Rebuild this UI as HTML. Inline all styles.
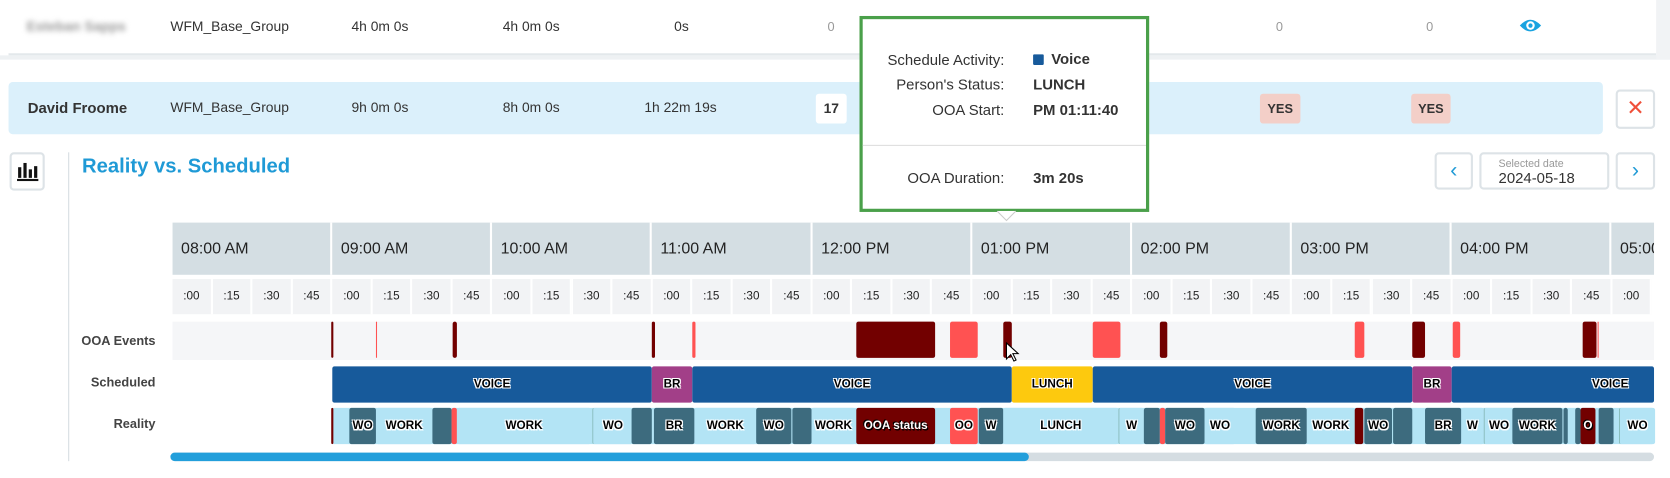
<!DOCTYPE html>
<html><head><meta charset="utf-8"><style>
html,body{margin:0;padding:0;width:1670px;height:478px;overflow:hidden;background:#fff}
#w{position:absolute;left:0;top:0;width:1568px;height:449px;transform:scale(1.06505);transform-origin:0 0;font-family:"Liberation Sans Narrow","Liberation Sans",sans-serif;color:#333}
.a{position:absolute}
.t{position:absolute;font-size:13px;line-height:16px;white-space:nowrap}
.hr{position:absolute;top:209px;height:49px;background:#d4dee3;border-right:2px solid #fff;box-sizing:border-box;font-size:15px;line-height:49px;padding-left:8px;color:#222;overflow:hidden;white-space:nowrap}
.q{position:absolute;top:262px;height:33px;background:#f2f3f5;border-right:2px solid #fff;box-sizing:border-box;font-size:11px;line-height:33px;text-align:center;color:#222}
.ev{position:absolute;top:302px;height:34px;border-radius:2px}
.d{background:#720000}.l{background:#ff5252}
.s{position:absolute;top:344px;height:34px;color:#000;font-size:11px;font-weight:bold;line-height:34px;text-align:center;text-shadow:-1px -1px 0 #fff,1px -1px 0 #fff,-1px 1px 0 #fff,1px 1px 0 #fff;overflow:hidden;border-radius:2px}
.r{position:absolute;top:383px;height:34px;color:#000;font-size:11px;font-weight:bold;line-height:34px;text-align:center;text-shadow:-1px -1px 0 #fff,1px -1px 0 #fff,-1px 1px 0 #fff,1px 1px 0 #fff;overflow:hidden;border-radius:2px}
.lb{position:absolute;right:1422px;font-size:12px;font-weight:bold;color:#444}
.dk{background:#3d6b7e}.lt{background:#b3e4f5}.rd{background:#720000}.rr{background:#ff5252}
.btn{position:absolute;border:2px solid #dde3e7;border-radius:4px;background:#fff;box-sizing:border-box}
</style></head><body><div id="w">
<!-- top row -->
<div class="a" style="left:8px;top:0;width:1547px;height:50px;background:#fff;border-bottom:2px solid #e3e8eb"></div>
<div class="a" style="left:0;top:52px;width:1568px;height:4px;background:#eef1f3"></div>
<div class="a" style="left:1555px;top:0;width:13px;height:56px;background:#f1f3f5"></div>
<div class="t" style="left:25px;top:17px;color:#999;filter:blur(2.5px);font-weight:bold">Esteban Sapps</div>
<div class="t" style="left:160px;top:17px">WFM_Base_Group</div>
<div class="t" style="left:330px;top:17px">4h 0m 0s</div>
<div class="t" style="left:472px;top:17px">4h 0m 0s</div>
<div class="t" style="left:633px;top:17px">0s</div>
<div class="t" style="left:777px;top:17px;color:#999;font-size:12px">0</div>
<div class="t" style="left:1198px;top:17px;color:#999;font-size:12px">0</div>
<div class="t" style="left:1339px;top:17px;color:#999;font-size:12px">0</div>
<svg class="a" style="left:1426px;top:16px" width="22" height="16"><path d="M1 8 Q11 -3 21 8 Q11 19 1 8Z" fill="#1aa3e0"/><circle cx="11" cy="8" r="4" fill="#fff"/><circle cx="11" cy="8" r="2" fill="#1aa3e0"/></svg>
<!-- David row -->
<div class="a" style="left:8px;top:77px;width:1497px;height:49px;background:#dbf0fb;border-radius:4px"></div>
<div class="t" style="left:26px;top:93px;font-weight:bold;font-size:14px">David Froome</div>
<div class="t" style="left:160px;top:93px">WFM_Base_Group</div>
<div class="t" style="left:330px;top:93px">9h 0m 0s</div>
<div class="t" style="left:472px;top:93px">8h 0m 0s</div>
<div class="t" style="left:605px;top:93px">1h 22m 19s</div>
<div class="a" style="left:766px;top:88px;width:29px;height:28px;background:#fff;border-radius:3px;font-weight:bold;font-size:13px;line-height:28px;text-align:center">17</div>
<div class="a" style="left:1183px;top:88px;width:38px;height:28px;background:#f3cfc8;border-radius:3px;font-weight:bold;font-size:12px;line-height:28px;text-align:center">YES</div>
<div class="a" style="left:1325px;top:88px;width:37px;height:28px;background:#f3cfc8;border-radius:3px;font-weight:bold;font-size:12px;line-height:28px;text-align:center">YES</div>
<div class="btn" style="left:1517px;top:84px;width:37px;height:37px;color:#f0503a;font-size:20px;line-height:33px;text-align:center">✕</div>
<!-- chart section -->
<div class="a" style="left:64px;top:143px;width:1px;height:290px;background:#d6dde2"></div>
<div class="btn" style="left:9px;top:143px;width:33px;height:36px"><svg width="29" height="32"><g fill="#111"><rect x="6" y="12" width="3" height="10"/><rect x="11" y="8" width="3" height="14"/><rect x="16" y="14" width="3" height="8"/><rect x="21" y="11" width="3" height="11"/><rect x="5" y="23" width="20" height="2"/></g></svg></div>
<div class="t" style="left:77px;top:146px;font-size:19px;line-height:22px;font-weight:bold;color:#1f9ad6">Reality vs. Scheduled</div>
<div class="btn" style="left:1347px;top:143px;width:36px;height:35px;color:#1f9ad6;font-size:20px;line-height:30px;text-align:center">‹</div>
<div class="btn" style="left:1389px;top:143px;width:122px;height:35px"><div class="t" style="left:16px;top:2px;font-size:10px;color:#999">Selected date</div><div class="t" style="left:16px;top:14px;font-size:14px">2024-05-18</div></div>
<div class="btn" style="left:1517px;top:143px;width:37px;height:35px;color:#1f9ad6;font-size:20px;line-height:30px;text-align:center">›</div>
<!-- hours -->
<div class="hr" style="left:162px;width:150px">08:00 AM</div>
<div class="hr" style="left:312px;width:150px">09:00 AM</div>
<div class="hr" style="left:462px;width:150px">10:00 AM</div>
<div class="hr" style="left:612px;width:151px">11:00 AM</div>
<div class="hr" style="left:763px;width:150px">12:00 PM</div>
<div class="hr" style="left:913px;width:150px">01:00 PM</div>
<div class="hr" style="left:1063px;width:150px">02:00 PM</div>
<div class="hr" style="left:1213px;width:150px">03:00 PM</div>
<div class="hr" style="left:1363px;width:150px">04:00 PM</div>
<div class="hr" style="left:1513px;width:40px;border-right:0">05:00 PM</div>
<div id="qs"></div>
<script>
var h='',lab=[':00',':15',':30',':45'];
for(var i=0;i<37;i++){var x=162+i*37.55;var w=Math.min(37.55,1553-x);h+='<div class="q" style="left:'+x.toFixed(1)+'px;width:'+w.toFixed(1)+'px">'+lab[i%4]+'</div>';}
document.getElementById('qs').innerHTML=h;
</script>
<!-- row labels -->
<div class="lb" style="top:313px">OOA Events</div>
<div class="lb" style="top:352px">Scheduled</div>
<div class="lb" style="top:391px">Reality</div>
<!-- OOA row -->
<div class="a" style="left:162px;top:302px;width:1391px;height:36px;background:#f5f6f8"></div>
<div class="ev d" style="left:311px;width:2px"></div>
<div class="ev l" style="left:353px;width:1px"></div>
<div class="ev d" style="left:425px;width:4px"></div>
<div class="ev d" style="left:612px;width:3px"></div>
<div class="ev l" style="left:650px;width:3px"></div>
<div class="ev d" style="left:804px;width:74px"></div>
<div class="ev l" style="left:892px;width:26px"></div>
<div class="ev d" style="left:942px;width:8px"></div>
<div class="ev l" style="left:1026px;width:26px"></div>
<div class="ev d" style="left:1089px;width:7px"></div>
<div class="ev l" style="left:1272px;width:9px"></div>
<div class="ev d" style="left:1326px;width:12px"></div>
<div class="ev l" style="left:1364px;width:7px"></div>
<div class="ev d" style="left:1486px;width:13px"></div>
<div class="ev l" style="left:1500px;width:1px"></div>
<svg class="a" style="left:944px;top:321px" width="14" height="20"><path d="M1 1 L1 16 L5 12 L8 18 L10 17 L7 11 L12 11Z" fill="#fff" stroke="#000" stroke-width="1"/></svg>
<!-- Scheduled -->
<div class="s" style="left:312px;width:300px;background:#175a9b">VOICE</div>
<div class="s" style="left:612px;width:38px;background:#a23f88">BR</div>
<div class="s" style="left:650px;width:300px;background:#175a9b">VOICE</div>
<div class="s" style="left:950px;width:76px;background:#fdc90e">LUNCH</div>
<div class="s" style="left:1026px;width:300px;background:#175a9b">VOICE</div>
<div class="s" style="left:1326px;width:37px;background:#a23f88">BR</div>
<div class="s" style="left:1363px;width:190px;background:#175a9b;text-align:right;padding-right:24px;box-sizing:border-box">VOICE</div>
<!-- Reality -->
<div class="r lt" style="left:312px;width:1241px"></div>
<div class="r rd" style="left:311px;width:2px"></div>
<div class="r dk" style="left:328px;width:25px">WO</div>
<div class="r lt" style="left:353px;width:53px">WORK</div>
<div class="r dk" style="left:406px;width:18px"></div>
<div class="r rr" style="left:424px;width:5px"></div>
<div class="r lt" style="left:429px;width:126px">WORK</div>
<div class="r lt" style="left:556px;width:37px;border-left:1px solid #8bb">WO</div>
<div class="r dk" style="left:593px;width:19px"></div>
<div class="r dk" style="left:614px;width:38px">BR</div>
<div class="r lt" style="left:652px;width:58px">WORK</div>
<div class="r dk" style="left:710px;width:33px">WO</div>
<div class="r dk" style="left:744px;width:18px"></div>
<div class="r lt" style="left:762px;width:41px">WORK</div>
<div class="r rd" style="left:804px;width:74px;color:#fff;text-shadow:-1px -1px 0 #000,1px 1px 0 #000">OOA status</div>
<div class="r rr" style="left:892px;width:26px">OO</div>
<div class="r dk" style="left:919px;width:23px">W</div>
<div class="r lt" style="left:942px;width:108px">LUNCH</div>
<div class="r lt" style="left:1050px;width:23px;border-left:1px solid #8bb">W</div>
<div class="r dk" style="left:1074px;width:15px"></div>
<div class="r rr" style="left:1089px;width:5px"></div>
<div class="r dk" style="left:1094px;width:37px">WO</div>
<div class="r lt" style="left:1131px;width:29px">WO</div>
<div class="r dk" style="left:1179px;width:48px">WORK</div>
<div class="r lt" style="left:1227px;width:45px">WORK</div>
<div class="r rd" style="left:1272px;width:8px"></div>
<div class="r dk" style="left:1281px;width:26px">WO</div>
<div class="r dk" style="left:1308px;width:18px"></div>
<div class="r dk" style="left:1338px;width:34px">BR</div>
<div class="r lt" style="left:1372px;width:21px">W</div>
<div class="r lt" style="left:1393px;width:27px;border-left:1px solid #8bb">WO</div>
<div class="r dk" style="left:1420px;width:47px">WORK</div>
<div class="r dk" style="left:1468px;width:4px"></div>
<div class="r dk" style="left:1479px;width:5px"></div>
<div class="r rd" style="left:1484px;width:14px;color:#fff;text-shadow:-1px -1px 0 #000,1px 1px 0 #000">O</div>
<div class="r dk" style="left:1501px;width:14px"></div>
<div class="r lt" style="left:1520px;width:33px;border-left:1px solid #8bb">WO</div>
<!-- scrollbar -->
<div class="a" style="left:160px;top:425px;width:1393px;height:8px;background:#d5dde2;border-radius:4px"></div>
<div class="a" style="left:160px;top:425px;width:806px;height:8px;background:#239fdb;border-radius:4px"></div>
<!-- tooltip -->
<div class="a" style="left:807px;top:15px;width:272px;height:184px;background:#fff;border:3px solid #4aa04a;box-sizing:border-box">
  <div class="t" style="right:133px;top:30px;font-size:14px">Schedule Activity:</div>
  <div class="a" style="left:160px;top:33px;width:10px;height:10px;background:#175a9b;border-radius:1px"></div>
  <div class="t" style="left:177px;top:29px;font-size:14px;font-weight:bold">Voice</div>
  <div class="t" style="right:133px;top:53px;font-size:14px">Person's Status:</div>
  <div class="t" style="left:160px;top:53px;font-size:14px;font-weight:bold">LUNCH</div>
  <div class="t" style="right:133px;top:77px;font-size:14px">OOA Start:</div>
  <div class="t" style="left:160px;top:77px;font-size:14px;font-weight:bold">PM 01:11:40</div>
  <div class="a" style="left:0;top:118px;width:266px;height:1px;background:#ddd"></div>
  <div class="t" style="right:133px;top:141px;font-size:14px">OOA Duration:</div>
  <div class="t" style="left:160px;top:141px;font-size:14px;font-weight:bold">3m 20s</div>
</div>
<svg class="a" style="left:936px;top:198px" width="18" height="10"><path d="M0 0 L9 9 L18 0" fill="#fff" stroke="#ccc"/></svg>
</div></body></html>
